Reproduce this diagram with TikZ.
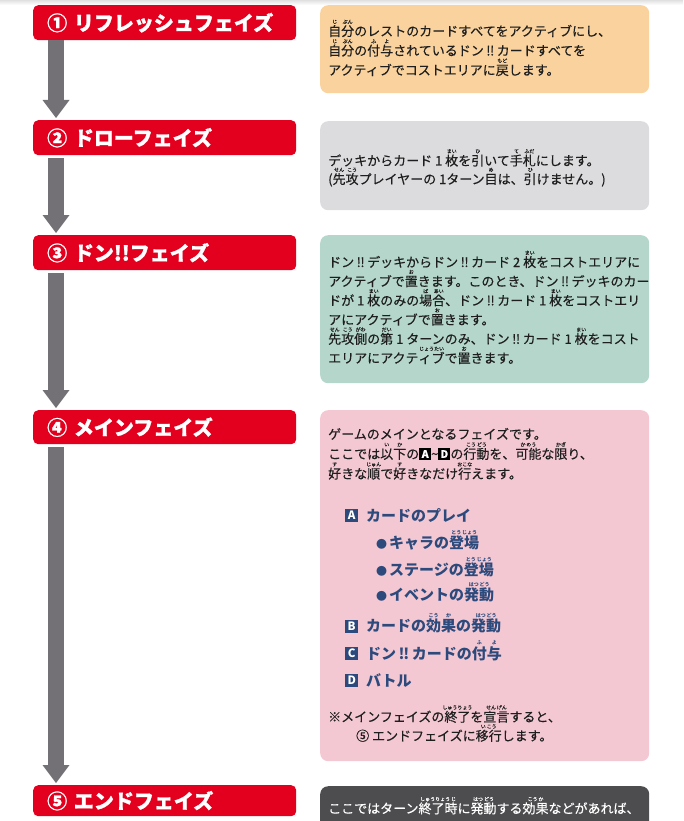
\documentclass[tikz,border=0pt]{standalone}
\usepackage{fontspec}
\setmainfont{Noto Sans CJK JP}
\newfontfamily\bodyf{Noto Sans CJK JP}[FakeBold=0.35]
\newfontfamily\hdrf{Noto Sans CJK JP}[BoldFeatures={FakeBold=1.2}]
\usetikzlibrary{arrows.meta}
\definecolor{redh}{HTML}{E3001E}
\definecolor{orng}{HTML}{F9D29D}
\definecolor{gryb}{HTML}{DCDCDE}
\definecolor{grnb}{HTML}{B5D7CB}
\definecolor{pnkb}{HTML}{F4C8D3}
\definecolor{drkb}{HTML}{4D4C4E}
\definecolor{arrc}{HTML}{737176}
\definecolor{bluet}{HTML}{2C4A7C}
\definecolor{txtc}{HTML}{1E1E1E}
\newcommand\rbfont{\fontsize{5}{5}\selectfont}
\newcommand\rby[2]{\leavevmode\setbox0=\hbox{#1}%
  \rlap{\smash{\hbox to \wd0{\hss\raise0.95em\hbox{\rbfont #2}\hss}}}\box0}
\newcommand\LN[1]{\hbox{#1}}
\newcommand\bng{\hspace{2.5pt}‼\hspace{2.5pt}}
\newcommand\mylines[2]{\vtop{\baselineskip=#1\lineskiplimit=-\maxdimen\lineskip=0pt #2}}
\newcommand\lsq[4]{{\setlength\fboxsep{0pt}\raisebox{-1.2pt}{\colorbox{#1}{\hbox to #2{\hss\vbox to #2{\vss\hbox{\color{white}\bfseries\fontsize{#3}{#3}\selectfont #4}\vss}\hss}}}}}
\begin{document}
\begin{tikzpicture}[x=1pt,y=-1pt,
  hdr/.style={fill=redh, rounded corners=5pt, minimum width=263pt, text width=235pt,
    align=left, inner xsep=14pt, inner ysep=0pt, text=white,
    font=\hdrf\bfseries\fontsize{20}{20}\selectfont, anchor=north west},
  pbox/.style={rounded corners=8pt, minimum width=329pt, inner sep=0pt, anchor=north west},
  txt/.style={inner sep=0pt, anchor=base west, font=\bodyf\fontsize{13}{19}\selectfont, text=txtc},
  li/.style={inner sep=0pt, anchor=base west, font=\bfseries\fontsize{15}{15}\selectfont, text=bluet},
  arr/.style={draw=arrc, line width=16pt, -{Triangle[width=27pt,length=18pt,line width=0pt]}}]
\useasboundingbox (0,0) rectangle (683,821);
\clip (0,0) rectangle (683,821);
\shade[top color=black!12, bottom color=white] (0,0) rectangle (683,5);
% headers
\node[hdr, minimum height=35pt] (h1) at (33,5) {① リフレッシュフェイズ};
\node[hdr, minimum height=35pt] (h2) at (33,120) {② ドローフェイズ};
\node[hdr, minimum height=35pt] (h3) at (33,235) {③ ドン!!フェイズ};
\node[hdr, minimum height=34pt] (h4) at (33,410) {④ メインフェイズ};
\node[hdr, minimum height=31pt] (h5) at (33,785) {⑤ エンドフェイズ};
% arrows
\draw[arr, shorten >=2pt] ([xshift=23pt]h1.south west) -- ([xshift=23pt]h2.north west);
\draw[arr, shorten <=3pt, shorten >=2pt] ([xshift=23pt]h2.south west) -- ([xshift=23pt]h3.north west);
\draw[arr, shorten <=3pt, shorten >=2pt] ([xshift=23pt]h3.south west) -- ([xshift=23pt]h4.north west);
\draw[arr, shorten <=3pt, shorten >=2pt] ([xshift=23pt]h4.south west) -- ([xshift=23pt]h5.north west);
% boxes
\node[pbox, fill=orng, minimum height=88pt] (b1) at (320,5) {};
\node[pbox, fill=gryb, minimum height=89pt] (b2) at (320,121) {};
\node[pbox, fill=grnb, minimum height=148pt] (b3) at (320,235) {};
\node[pbox, fill=pnkb, minimum height=351pt] (b4) at (320,410) {};
\node[pbox, fill=drkb, minimum height=60pt] (b5) at (320,786) {};
% texts
\node[txt] (t1) at (328,36) {\mylines{19.5pt}{%
  \LN{\rby{自}{じ}\rby{分}{ぶん}のレストのカードすべてをアクティブにし、}%
  \LN{\rby{自}{じ}\rby{分}{ぶん}の\rby{付}{ふ}\rby{与}{よ}されているドン\bng カードすべてを}%
  \LN{アクティブでコストエリアに\rby{戻}{もど}します。}}};
\node[txt] (t2) at (328,165.5) {\mylines{18.5pt}{%
  \LN{デッキからカード 1 \rby{枚}{まい}を\rby{引}{ひ}いて\rby{手}{て}\rby{札}{ふだ}にします。}%
  \LN{(\rby{先}{せん}\rby{攻}{こう}プレイヤーの 1ターン\rby{目}{め}は、\rby{引}{ひ}けません。)}}};
\node[txt] (t3) at (328,267) {\mylines{19.2pt}{%
  \LN{ドン\bng デッキからドン\bng カード 2 \rby{枚}{まい}をコストエリアに}%
  \LN{アクティブで\rby{置}{お}きます。このとき、ドン\bng デッキのカー}%
  \LN{ドが 1 \rby{枚}{まい}のみの\rby{場}{ば}\rby{合}{あい}、ドン\bng カード 1 \rby{枚}{まい}をコストエリ}%
  \LN{アにアクティブで\rby{置}{お}きます。}%
  \LN{\rby{先}{せん}\rby{攻}{こう}\rby{側}{がわ}の\rby{第}{だい}\hspace{3pt}1 ターンのみ、ドン\bng カード 1 \rby{枚}{まい}をコスト}%
  \LN{エリアにアクテ\rby{ィブ}{じょうたい}で\rby{置}{お}きます。}}};
\node[txt] (t4) at (328,439) {\mylines{19.8pt}{%
  \LN{ゲームのメインとなるフェイズです。}%
  \LN{ここでは\rby{以}{い}\rby{下}{か}の\lsq{black}{12pt}{10.5}{A}\textasciitilde\lsq{black}{12pt}{10.5}{D}の\rby{行動}{こう\,どう}を、\rby{可能}{か\,のう}な\rby{限}{かぎ}り、}%
  \LN{\rby{好}{す}きな\rby{順}{じゅん}で\rby{好}{す}きなだけ\rby{行}{おこな}えます。}}};
\node[li] (la) at (345,521) {\lsq{bluet}{13pt}{11.5}{A}\hspace{8pt}カードのプレイ};
\node[li] (l1) at (376,548.4) {{\fontsize{11}{11}\selectfont ●}\hspace{2pt}キャラの\rby{登場}{とう\,じょう}};
\node[li] (l2) at (376,575.7) {{\fontsize{11}{11}\selectfont ●}\hspace{2pt}ステージの\rby{登場}{とう\,じょう}};
\node[li] (l3) at (376,600.7) {{\fontsize{11}{11}\selectfont ●}\hspace{2pt}イベントの\rby{発動}{はつ\,どう}};
\node[li] (lb) at (345,631.7) {\lsq{bluet}{13pt}{11.5}{B}\hspace{8pt}カードの\rby{効}{こう}\rby{果}{か}の\rby{発動}{はつ\,どう}};
\node[li] (lc) at (345,659) {\lsq{bluet}{13pt}{11.5}{C}\hspace{8pt}ドン\bng カードの\rby{付}{ふ}\rby{与}{よ}};
\node[li] (ld) at (345,686) {\lsq{bluet}{13pt}{11.5}{D}\hspace{8pt}バトル};
\node[txt] (t5) at (328,721.7) {\mylines{19pt}{%
  \LN{※メインフェイズの\rby{終了}{しゅうりょう}を\rby{宣言}{せん\,げん}すると、}%
  \LN{\hspace{28pt}⑤ エンドフェイズに\rby{移行}{い\,こう}します。}}};
\node[txt, text=white] (t6) at (328,813.3) {ここではターン\rby{終了時}{しゅうりょう\,じ}に\rby{発動}{はつ\,どう}する\rby{効果}{こう\,か}などがあれば、};
\end{tikzpicture}
\end{document}
